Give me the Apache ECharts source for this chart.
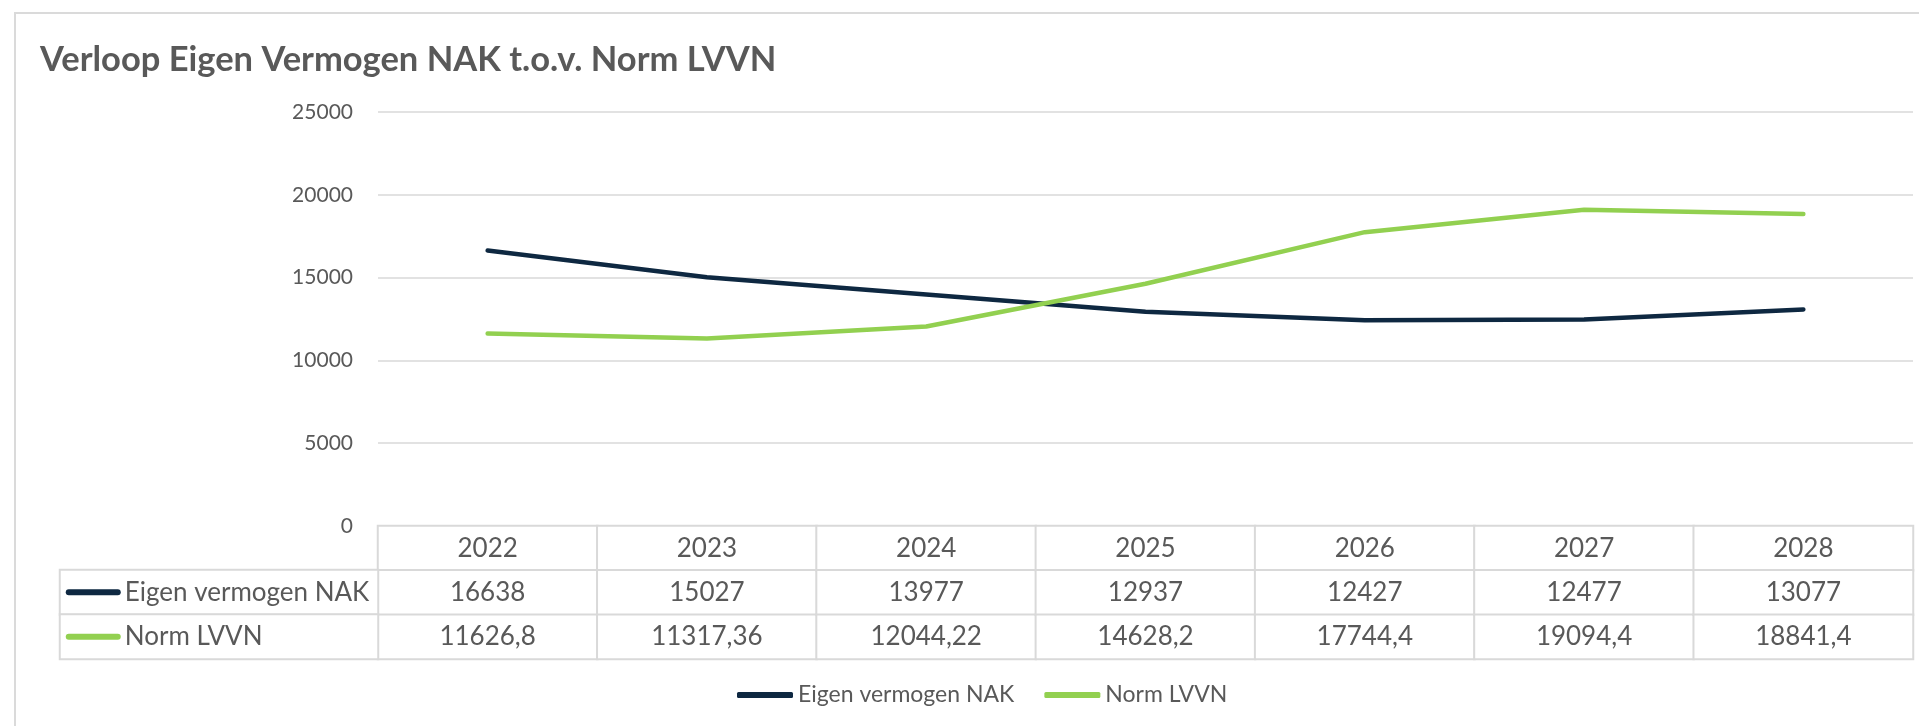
<!DOCTYPE html>
<html>
<head>
<meta charset="utf-8">
<script src="https://cdn.jsdelivr.net/npm/echarts@6/dist/echarts.min.js"></script>
<style>
  html, body { margin: 0; padding: 0; background: #fff; overflow: hidden; }
  .frame { position: absolute; left: 14px; top: 12px; width: 2000px; height: 800px; border: 2px solid #dadada; }
  #chart { position: absolute; left: 0; top: 0; width: 1919px; height: 726px; }
</style>
</head>
<body>
<div class="frame"></div>
<div id="chart"></div>
<script>
const years = ['2022', '2023', '2024', '2025', '2026', '2027', '2028']
const eigenVermogen = [16638, 15027, 13977, 12937, 12427, 12477, 13077]
const normLVVN = [11626.8, 11317.36, 12044.22, 14628.2, 17744.4, 19094.4, 18841.4]
const seriesNames = ['Eigen vermogen NAK', 'Norm LVVN']
const seriesColors = ['#0E2841', '#92D050']

const textColor = '#595959'
const lineColor = '#d9d9d9'
const font = 'Lato'

const fmt = (v) => String(v).replace('.', ',')

// table cells: row 0 = years, row 1/2 = series values
const tableCells = []
years.forEach((y, i) => {
  tableCells.push([i, 0, 0])
  tableCells.push([i, 1, eigenVermogen[i]])
  tableCells.push([i, 2, normLVVN[i]])
})

const chart = echarts.init(document.getElementById('chart'))

chart.setOption({
  animation: false,
  textStyle: { fontFamily: font },
  title: {
    text: 'Verloop Eigen Vermogen NAK t.o.v. Norm LVVN',
    left: 40,
    top: 42,
    padding: 0,
    textStyle: { color: textColor, fontSize: 34.5, fontWeight: 'bold', fontFamily: font, lineHeight: 35 }
  },
  legend: {
    data: seriesNames,
    left: 737,
    top: 683,
    icon: 'roundRect',
    itemWidth: 56,
    itemHeight: 6,
    itemGap: 30,
    padding: 0,
    textStyle: { color: textColor, fontSize: 23, fontFamily: font, lineHeight: 24 }
  },
  grid: [
    { left: 378, right: 6, top: 112, height: 414 },
    { left: 378, right: 6, top: 526, height: 133 },
    { left: 60, width: 318, top: 570, height: 89 }
  ],
  xAxis: [
    {
      gridIndex: 0,
      type: 'category',
      data: years,
      axisLabel: { show: false },
      axisTick: { show: false },
      axisLine: { lineStyle: { color: lineColor, width: 2 } }
    },
    { gridIndex: 1, type: 'category', data: years, show: false },
    { gridIndex: 2, type: 'category', data: ['label'], show: false }
  ],
  yAxis: [
    {
      gridIndex: 0,
      type: 'value',
      min: 0,
      max: 25000,
      interval: 5000,
      axisLabel: { color: textColor, fontSize: 21, margin: 25, fontFamily: font, formatter: (v) => String(v) },
      axisLine: { show: false },
      axisTick: { show: false },
      splitLine: { lineStyle: { color: lineColor, width: 1.5 } }
    },
    { gridIndex: 1, type: 'category', data: ['jaar', 'nak', 'lvvn'], inverse: true, show: false },
    { gridIndex: 2, type: 'category', data: ['nak', 'lvvn'], inverse: true, show: false }
  ],
  series: [
    {
      name: seriesNames[0],
      type: 'line',
      data: eigenVermogen,
      showSymbol: false,
      color: seriesColors[0],
      lineStyle: { width: 4.5, cap: 'round', join: 'round' }
    },
    {
      name: seriesNames[1],
      type: 'line',
      data: normLVVN,
      showSymbol: false,
      color: seriesColors[1],
      lineStyle: { width: 4.5, cap: 'round', join: 'round' }
    },
    {
      type: 'heatmap',
      xAxisIndex: 1,
      yAxisIndex: 1,
      data: tableCells,
      itemStyle: { color: '#fff', borderColor: lineColor, borderWidth: 2 },
      emphasis: { disabled: true },
      label: {
        show: true,
        color: textColor,
        fontSize: 26,
        fontFamily: font,
        formatter: (p) => (p.value[1] === 0 ? years[p.value[0]] : fmt(p.value[2]))
      }
    },
    {
      type: 'heatmap',
      xAxisIndex: 2,
      yAxisIndex: 2,
      data: [[0, 0, 0], [0, 1, 1]],
      itemStyle: { color: '#fff', borderColor: lineColor, borderWidth: 2 },
      emphasis: { disabled: true },
      label: {
        show: true,
        position: 'insideLeft',
        distance: 7,
        formatter: (p) => `{k${p.value[1]}|}{t|${seriesNames[p.value[1]]}}`,
        rich: {
          k0: { width: 55, height: 6, backgroundColor: seriesColors[0], borderRadius: 3, verticalAlign: 'middle' },
          k1: { width: 55, height: 6, backgroundColor: seriesColors[1], borderRadius: 3, verticalAlign: 'middle' },
          t: { color: textColor, fontSize: 26, fontFamily: font, padding: [0, 0, 0, 4], verticalAlign: 'middle' }
        }
      }
    }
  ]
})
</script>
</body>
</html>
